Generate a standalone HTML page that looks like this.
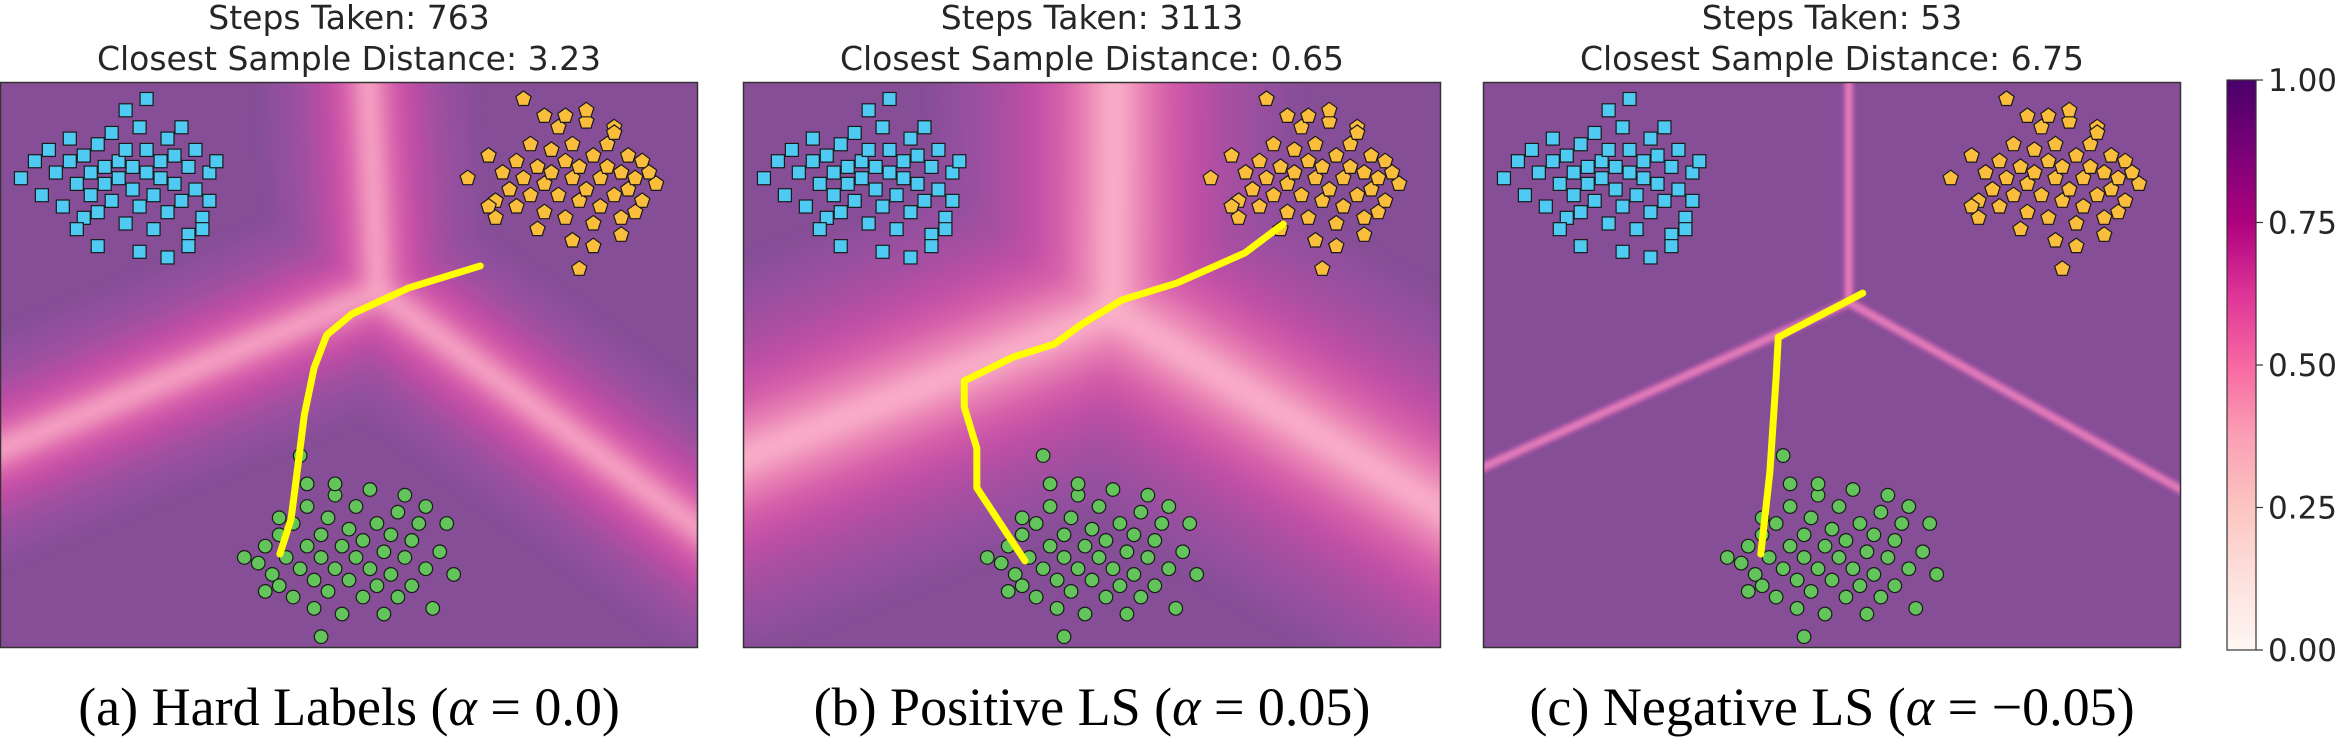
<!DOCTYPE html>
<html><head><meta charset="utf-8">
<style>
html,body{margin:0;padding:0;background:#fff;}
svg{display:block;}
</style></head>
<body>
<svg id="fig" width="2344" height="739" viewBox="0 0 2344 739" xmlns="http://www.w3.org/2000/svg">
<defs>
<filter id="blurA" filterUnits="userSpaceOnUse" x="-200" y="-200" width="2800" height="1200"><feGaussianBlur stdDeviation="8"/></filter>
<filter id="blurB" filterUnits="userSpaceOnUse" x="-200" y="-200" width="2800" height="1200"><feGaussianBlur stdDeviation="11"/></filter>
<filter id="blurC" filterUnits="userSpaceOnUse" x="-200" y="-200" width="2800" height="1200"><feGaussianBlur stdDeviation="1.5"/></filter>
<linearGradient id="cbgrad" x1="0" y1="1" x2="0" y2="0">
<stop offset="0" stop-color="#fff7f3"/><stop offset="0.125" stop-color="#fde0dd"/>
<stop offset="0.25" stop-color="#fcc5c0"/><stop offset="0.375" stop-color="#fa9fb5"/>
<stop offset="0.5" stop-color="#f768a1"/><stop offset="0.625" stop-color="#dd3497"/>
<stop offset="0.75" stop-color="#ae017e"/><stop offset="0.875" stop-color="#7a0177"/>
<stop offset="1" stop-color="#49006a"/>
</linearGradient>
</defs>
</svg>
<script>
// ---- data (x,y in 0..100 data units, y up) ----
const blueX=[3,5,6,7,8,9,10,10,11,12,12,13,13,14,14,15,15,16,16,17,17,18,18,19,19,20,20,21,21,22,22,23,23,24,24,25,25,26,27,27,28,28,29,30,31,30,18,21,14,20,24,27,29,11,26];
const blueY=[83,86,80,88,84,78,86,90,82,76,87,84,80,89,77,85,82,91,79,86,83,88,75,81,85,92,78,84,88,80,74,86,83,90,77,82,87,79,85,73,88,81,76,84,86,79,95,97,71,70,69,71,74,74,92];
const orangeX=[67,70,71,72,73,74,74,75,76,76,77,78,78,79,79,80,80,81,81,82,82,83,83,84,84,85,85,86,86,87,87,88,88,89,89,90,90,91,92,92,93,94,75,78,81,84,88,70,71,82,85,83,89,91,77];
const orangeY=[83,87,79,84,81,86,78,83,89,80,85,82,77,88,84,80,92,86,76,83,89,79,85,81,93,87,75,83,78,89,85,80,92,84,76,87,81,83,79,86,84,82,97,94,94,95,91,78,76,72,71,67,73,77,74];
const greenX=[35,37,38,39,40,40,41,42,42,43,44,44,45,45,46,46,47,47,48,48,49,49,50,50,51,51,52,52,53,53,54,54,55,55,56,56,57,57,58,59,59,60,61,62,63,64,65,44,48,43,40,46,58,61,38];
const greenY=[16,15,18,13,20,11,16,22,9,14,18,25,12,7,20,16,23,10,14,27,18,6,21,12,16,25,9,19,14,28,22,11,17,6,20,13,24,9,16,19,11,22,14,7,17,22,13,29,29,34,23,2,27,25,10];
// decision-boundary ridge: center, top, left, right endpoints
const ridgeA=[[54.2,62.9],[52.6,104],[-4,33],[104,17.5]];
const ridgeB=[[53,59.5],[53.2,104],[-4,31.5],[104,21.5]];
const ridgeC=[[52.4,61.1],[52.4,104],[-4,29.7],[104,25.2]];
// trajectories
const pathAX=[68.8,58.5,50.4,46.8,45,43.6,42.4,41.7,40.1];
const pathAY=[67.5,63.6,59,55.3,49.5,41.2,29.5,22.8,16.6];
const pathBX=[77.4,71.9,62.2,54.3,48.4,44.6,38.7,31.7,31.7,33,33.5,33.5,40.4];
const pathBY=[74.9,69.8,64.5,61.5,57.1,53.7,51.4,47.2,42.6,37.3,35.3,28.3,15.4];
const pathCX=[54.4,42.3,42,41.1,39.8];
const pathCY=[62.7,54.9,47.9,31.1,16.6];
const titles1=["Steps Taken: 763","Steps Taken: 3113","Steps Taken: 53"];
const titles2=["Closest Sample Distance: 3.23","Closest Sample Distance: 0.65","Closest Sample Distance: 6.75"];
const cbTicks=[0,0.25,0.5,0.75,1];
const cbLabels=["0.00","0.25","0.50","0.75","1.00"];

const NS="http://www.w3.org/2000/svg";
const svg=document.getElementById('fig');
function mk(tag,attrs,parent){const e=document.createElementNS(NS,tag);for(const k in attrs)e.setAttribute(k,attrs[k]);(parent||svg).appendChild(e);return e;}
const PW=698,PH=566,PY=82;
const panels=[{x0:0,r:ridgeA,px:pathAX,py:pathAY,kind:'a',cap:'(a) Hard Labels (',val:'0.0)'},
{x0:743,r:ridgeB,px:pathBX,py:pathBY,kind:'b',cap:'(b) Positive LS (',val:'0.05)'},
{x0:1483,r:ridgeC,px:pathCX,py:pathCY,kind:'c',cap:'(c) Negative LS (',val:'\u22120.05)'}];
const names=['hard-labels','positive-ls','negative-ls'];
panels.forEach((p,i)=>{
  const sx=v=>p.x0+v/100*PW, sy=v=>PY+(1-v/100)*PH;
  const g=mk('g',{});
  
  
  const cp=mk('clipPath',{id:'clip'+i},g);
  mk('rect',{x:p.x0,y:PY,width:PW,height:PH},cp);
  const bg=mk('g',{'clip-path':'url(#clip'+i+')'},g);
  const base=mk('rect',{x:p.x0,y:PY,width:PW,height:PH,fill:'#864e97'},bg);
  
  
  const c=p.r[0];
  const d=[1,2,3].map(k=>`M${sx(c[0])},${sy(c[1])} L${sx(p.r[k][0])},${sy(p.r[k][1])}`).join(' ');
  let layers;
  if(p.kind==='a') layers=[[200,'#924f9e'],[150,'#a34fa1'],[110,'#b94ea4'],[75,'#cf55a8'],[45,'#e16fb0'],[22,'#f291bc'],[8,'#f9b0c9']];
  else if(p.kind==='b') layers=[[340,'#944f9f'],[270,'#a64fa2'],[200,'#bd4fa5'],[140,'#d35ca9'],[85,'#e77db3'],[40,'#f59fc0'],[14,'#fbb9cd']];
  else layers=[[12,'#b25aa8'],[6,'#e07ab8']];
  const rg=mk('g',{filter:p.kind==='a'?'url(#blurA)':(p.kind==='b'?'url(#blurB)':'url(#blurC)'),'stroke-linecap':'round','stroke-linejoin':'round',fill:'none'},bg);
  
  
  layers.forEach(l=>{mk('path',{d:d,stroke:l[1],'stroke-width':l[0]},rg);});
  // scatter
  const sg=mk('g',{stroke:'#1a1a1a','stroke-width':1.2},bg);
  blueX.forEach((x,j)=>{const r=mk('rect',{x:sx(x)-6.5,y:sy(blueY[j])-6.5,width:13,height:13,fill:'#4fcbf3'},sg);
    
    });
  orangeX.forEach((x,j)=>{const cx=sx(x),cy=sy(orangeY[j]);let pts=[];for(let k=0;k<5;k++){const a=-Math.PI/2+k*2*Math.PI/5;pts.push((cx+8*Math.cos(a)).toFixed(1)+','+(cy+8*Math.sin(a)).toFixed(1));}
    const pg=mk('polygon',{points:pts.join(' '),fill:'#fbbd3c'},sg);
    
    });
  greenX.forEach((x,j)=>{const ci=mk('circle',{cx:sx(x),cy:sy(greenY[j]),r:6.8,fill:'#62c45a'},sg);
    
    });
  const tp=mk('polyline',{points:p.px.map((x,j)=>sx(x)+','+sy(p.py[j])).join(' '),fill:'none',stroke:'#ffff00','stroke-width':7,'stroke-linecap':'round','stroke-linejoin':'round'},bg);
  
  
  const fr=mk('rect',{x:p.x0+0.5,y:PY+0.5,width:PW-1,height:PH-1,fill:'none',stroke:'#333','stroke-width':1.5},g);
  
  
  const cx=p.x0+PW/2;
  const t1=mk('text',{x:cx,y:29,'text-anchor':'middle','font-family':'DejaVu Sans, sans-serif','font-size':33,fill:'#262626'},g);
  t1.textContent=titles1[i];
  
  
  const t2=mk('text',{x:cx,y:70,'text-anchor':'middle','font-family':'DejaVu Sans, sans-serif','font-size':33,fill:'#262626'},g);
  t2.textContent=titles2[i];
  
  
  const cap=mk('text',{x:cx,y:725,'text-anchor':'middle','font-family':'Liberation Serif, serif','font-size':54,fill:'#000'},g);
  
  
  const s1=mk('tspan',{},cap);s1.textContent=p.cap;
  const s2=mk('tspan',{'font-style':'italic'},cap);s2.textContent='\u03b1';
  const s3=mk('tspan',{},cap);s3.textContent=' = '+p.val;
});
// colorbar
const CBX=2227,CBW=29,CBT=80,CBB=650;
const cy=v=>CBB-(v)*(CBB-CBT);
const cb=mk('g',{});


mk('rect',{x:CBX,y:CBT,width:CBW,height:CBB-CBT,fill:'url(#cbgrad)',stroke:'#333','stroke-width':1.2},cb);
cbTicks.forEach((v,j)=>{
  const tk=mk('line',{x1:CBX+CBW,x2:CBX+CBW+7,y1:cy(v),y2:cy(v),stroke:'#333','stroke-width':1.2},cb);
  
  
  const tl=mk('text',{x:CBX+CBW+12,y:cy(v)+11,'font-family':'DejaVu Sans, sans-serif','font-size':31,fill:'#262626'},cb);
  tl.textContent=cbLabels[j];
  
  
});
</script>
</body></html>
